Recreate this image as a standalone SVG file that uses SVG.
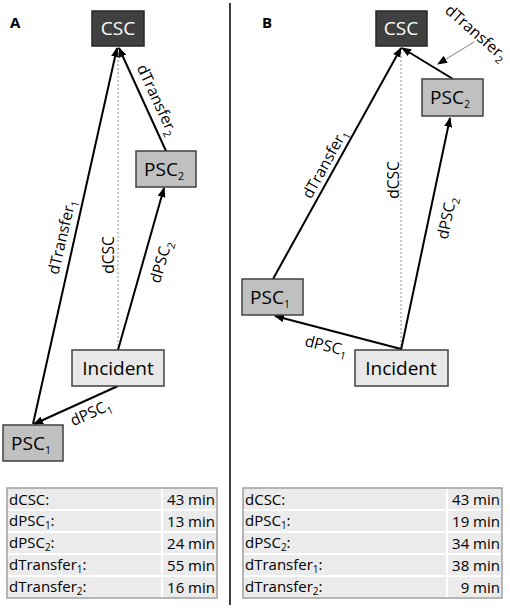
<svg xmlns="http://www.w3.org/2000/svg" width="510" height="608" viewBox="0 0 510 608">
<defs>
<marker id="ah" markerUnits="userSpaceOnUse" markerWidth="10" markerHeight="8" refX="9" refY="4" orient="auto">
<path d="M0,0 L10,4 L0,8 Z" fill="#000"/>
</marker>
<marker id="ahg" markerUnits="userSpaceOnUse" markerWidth="10" markerHeight="8" refX="9" refY="4" orient="auto">
<path d="M0,0 L10,4 L0,8 Z" fill="#000"/>
</marker>
<style>
text{font-family:"Open Sans","Liberation Sans",sans-serif;fill:#000}
.node{font-size:19px}
.lbl{font-size:15.5px}
.sub{font-size:10.5px}
.tsub{font-size:10px}
.tbl{font-size:15px}
.panel{font-size:15px;font-weight:bold}
.edge{stroke:#000;stroke-width:2;fill:none;marker-end:url(#ah)}
.dot{stroke:#8c8c8c;stroke-width:1;stroke-dasharray:2,2;fill:none}
.csc{fill:#404040;stroke:#262626;stroke-width:1.5}
.psc{fill:#c0c0c0;stroke:#404040;stroke-width:1.5}
.inc{fill:#e8e8e8;stroke:#404040;stroke-width:1.5}
.row{fill:#ebebeb}
.sep{stroke:#fff;stroke-width:2}
.frame{fill:none;stroke:#a0a0a0;stroke-width:1.5}
</style>
</defs>
<rect width="510" height="608" fill="#fff"/>
<line x1="230" y1="3" x2="230" y2="605" stroke="#000" stroke-width="1.5"/>
<text class="panel" x="10" y="28">A</text>
<text class="panel" x="262" y="28">B</text>

<g id="connectors">
<!-- Panel A -->
<line class="dot" x1="118" y1="350" x2="118" y2="48"/>
<line class="edge" x1="166" y1="151" x2="119" y2="48"/>
<line class="edge" x1="33" y1="424" x2="117" y2="48"/>
<line class="edge" x1="118" y1="350" x2="164" y2="188"/>
<line class="edge" x1="118" y1="386" x2="34" y2="424"/>
<!-- Panel B -->
<line class="dot" x1="401" y1="350" x2="401" y2="48"/>
<line class="edge" x1="453" y1="79" x2="402" y2="48"/>
<line class="edge" x1="273" y1="279" x2="401" y2="48"/>
<line class="edge" x1="401" y1="350" x2="450" y2="118"/>
<line class="edge" x1="401" y1="349" x2="275" y2="316"/>
<line x1="474" y1="42" x2="438" y2="64" stroke="#808080" stroke-width="1" marker-end="url(#ahg)"/>
</g>

<g id="labels">
<text class="lbl" text-anchor="middle" transform="translate(157,100) rotate(65)" y="5">dTransfer<tspan class="sub" dy="4">2</tspan></text>
<text class="lbl" text-anchor="middle" transform="translate(62,237) rotate(-77)" y="5">dTransfer<tspan class="sub" dy="4">1</tspan></text>
<text class="lbl" text-anchor="middle" transform="translate(109,255) rotate(-90)" y="5">dCSC</text>
<text class="lbl" text-anchor="middle" transform="translate(161,262) rotate(-74)" y="5">dPSC<tspan class="sub" dy="4">2</tspan></text>
<text class="lbl" text-anchor="middle" transform="translate(91,413) rotate(-24)" y="5">dPSC<tspan class="sub" dy="4">1</tspan></text>

<text class="lbl" text-anchor="middle" transform="translate(476,33) rotate(41)" y="5">dTransfer<tspan class="sub" dy="4">2</tspan></text>
<text class="lbl" text-anchor="middle" transform="translate(325,164) rotate(-61)" y="5">dTransfer<tspan class="sub" dy="4">1</tspan></text>
<text class="lbl" text-anchor="middle" transform="translate(394,180) rotate(-90)" y="5">dCSC</text>
<text class="lbl" text-anchor="middle" transform="translate(447,218) rotate(-78)" y="5">dPSC<tspan class="sub" dy="4">2</tspan></text>
<text class="lbl" text-anchor="middle" transform="translate(326,346) rotate(14)" y="5">dPSC<tspan class="sub" dy="4">1</tspan></text>
</g>

<g id="A-CSC"><rect class="csc" x="92" y="11" width="52" height="35"/><text class="node" x="118" y="35" text-anchor="middle" style="fill:#fff">CSC</text></g>
<g id="A-PSC2"><rect class="psc" x="136" y="151" width="60" height="36"/><text class="node" x="164" y="176" text-anchor="middle">PSC<tspan class="sub" dy="4" font-size="12">2</tspan></text></g>
<g id="A-Incident"><rect class="inc" x="72" y="350" width="92" height="36"/><text class="node" x="118" y="375" text-anchor="middle">Incident</text></g>
<g id="A-PSC1"><rect class="psc" x="3" y="425" width="60" height="36"/><text class="node" x="31" y="450" text-anchor="middle">PSC<tspan class="sub" dy="4" font-size="12">1</tspan></text></g>

<g id="B-CSC"><rect class="csc" x="376" y="11" width="51" height="35"/><text class="node" x="401" y="35" text-anchor="middle" style="fill:#fff">CSC</text></g>
<g id="B-PSC2"><rect class="psc" x="422" y="79" width="61" height="37"/><text class="node" x="450" y="104" text-anchor="middle">PSC<tspan class="sub" dy="4" font-size="12">2</tspan></text></g>
<g id="B-PSC1"><rect class="psc" x="242" y="279" width="61" height="36"/><text class="node" x="270" y="304" text-anchor="middle">PSC<tspan class="sub" dy="4" font-size="12">1</tspan></text></g>
<g id="B-Incident"><rect class="inc" x="355" y="350" width="93" height="36"/><text class="node" x="401" y="375" text-anchor="middle">Incident</text></g>

<g id="A-table">
<rect class="row" x="7" y="488" width="210" height="110"/>
<line class="sep" x1="7" y1="510" x2="217" y2="510"/>
<line class="sep" x1="7" y1="532" x2="217" y2="532"/>
<line class="sep" x1="7" y1="554" x2="217" y2="554"/>
<line class="sep" x1="7" y1="576" x2="217" y2="576"/>
<line class="sep" x1="162" y1="488" x2="162" y2="598"/>
<rect class="frame" x="7" y="488" width="210" height="110"/>
<text class="tbl" x="9" y="505">dCSC:</text>
<text class="tbl" x="9" y="526">dPSC<tspan class="tsub" dy="3">1</tspan><tspan dy="-3">:</tspan></text>
<text class="tbl" x="9" y="548">dPSC<tspan class="tsub" dy="3">2</tspan><tspan dy="-3">:</tspan></text>
<text class="tbl" x="9" y="570">dTransfer<tspan class="tsub" dy="3">1</tspan><tspan dy="-3">:</tspan></text>
<text class="tbl" x="9" y="592">dTransfer<tspan class="tsub" dy="3">2</tspan><tspan dy="-3">:</tspan></text>
<text class="tbl" x="215" y="505" text-anchor="end">43 min</text>
<text class="tbl" x="215" y="527" text-anchor="end">13 min</text>
<text class="tbl" x="215" y="549" text-anchor="end">24 min</text>
<text class="tbl" x="215" y="571" text-anchor="end">55 min</text>
<text class="tbl" x="215" y="593" text-anchor="end">16 min</text>
</g>

<g id="B-table">
<rect class="row" x="243" y="488" width="259" height="110"/>
<line class="sep" x1="243" y1="510" x2="502" y2="510"/>
<line class="sep" x1="243" y1="532" x2="502" y2="532"/>
<line class="sep" x1="243" y1="554" x2="502" y2="554"/>
<line class="sep" x1="243" y1="576" x2="502" y2="576"/>
<line class="sep" x1="447" y1="488" x2="447" y2="598"/>
<rect class="frame" x="243" y="488" width="259" height="110"/>
<text class="tbl" x="245" y="505">dCSC:</text>
<text class="tbl" x="245" y="526">dPSC<tspan class="tsub" dy="3">1</tspan><tspan dy="-3">:</tspan></text>
<text class="tbl" x="245" y="548">dPSC<tspan class="tsub" dy="3">2</tspan><tspan dy="-3">:</tspan></text>
<text class="tbl" x="245" y="570">dTransfer<tspan class="tsub" dy="3">1</tspan><tspan dy="-3">:</tspan></text>
<text class="tbl" x="245" y="592">dTransfer<tspan class="tsub" dy="3">2</tspan><tspan dy="-3">:</tspan></text>
<text class="tbl" x="500" y="505" text-anchor="end">43 min</text>
<text class="tbl" x="500" y="527" text-anchor="end">19 min</text>
<text class="tbl" x="500" y="549" text-anchor="end">34 min</text>
<text class="tbl" x="500" y="571" text-anchor="end">38 min</text>
<text class="tbl" x="500" y="593" text-anchor="end">9 min</text>
</g>
</svg>
